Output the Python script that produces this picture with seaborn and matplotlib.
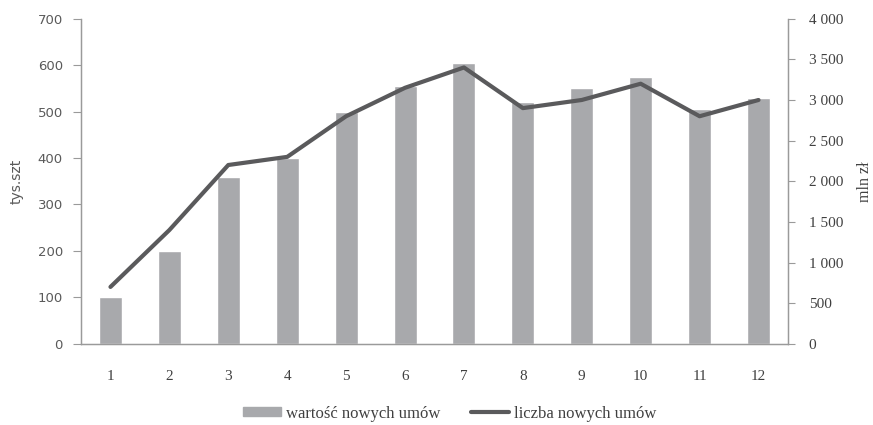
import matplotlib
matplotlib.use("Agg")
import matplotlib.pyplot as plt
import matplotlib.ticker as mticker
from matplotlib.patches import Rectangle
from matplotlib.lines import Line2D
import numpy as np
import pandas as pd
import seaborn as sns

# Monthly data
months = ["1", "2", "3", "4", "5", "6", "7", "8", "9", "10", "11", "12"]
contract_value = [100, 200, 360, 400, 500, 555, 605, 520, 550, 575, 505, 530]      # left axis
contract_count = [700, 1400, 2200, 2300, 2800, 3150, 3400, 2900, 3000, 3200, 2800, 3000]  # right axis

bar_label = "wartość nowych umów"
line_label = "liczba nowych umów"

df = pd.DataFrame({"month": months, "value": contract_value, "count": contract_count})
df["pos"] = np.arange(len(months))

sns.set_style("white")
serif = ["Liberation Serif", "DejaVu Serif"]
sans = ["DejaVu Sans"]

bar_color = "#a8a9ac"
line_color = "#5a5a5c"
axis_color = "#9a9a9a"
text_color = "#404040"
light_text = "#5a5a5a"

fig = plt.figure(figsize=(8.73, 4.25), dpi=100)
ax = fig.add_axes([0.0928, 0.191, 0.8098, 0.765])

sns.barplot(data=df, x="month", y="value", color=bar_color, width=0.39,
            saturation=1, ax=ax, zorder=2)
ax.set_ylim(0, 700)
ax.set_xlim(-0.5, len(months) - 0.5)
ax.set_yticks(np.arange(0, 701, 100))
ax.set_xlabel("")
ax.set_ylabel("tys.szt", family=sans, fontsize=10, color=light_text, labelpad=10)

ax2 = ax.twinx()
sns.lineplot(x=df["pos"], y=df["count"], color=line_color, linewidth=3,
             ax=ax2, zorder=3)
ax2.set_ylim(0, 4000)
ax2.set_yticks(np.arange(0, 4001, 500))
ax2.yaxis.set_major_formatter(mticker.FuncFormatter(
    lambda v, p: f"{int(v):,}".replace(",", " ")))
ax2.set_xlim(-0.5, len(months) - 0.5)
ax2.set_xlabel("")
ax2.set_ylabel("mln zł", family=serif, fontsize=11.5, color=text_color, labelpad=10)

for a in (ax, ax2):
    a.spines["top"].set_visible(False)
    for s in ("left", "right", "bottom"):
        a.spines[s].set_color(axis_color)
        a.spines[s].set_linewidth(0.9)
    a.grid(False)

# left axis ticks
ax.tick_params(axis="y", direction="out", length=6, width=0.8, color=axis_color,
               labelsize=9.5, labelcolor=light_text, pad=7)
for t in ax.get_yticklabels():
    t.set_family(sans)

# x axis: labels centred, tick marks at category boundaries
ax.tick_params(axis="x", which="major", length=0, labelsize=11, labelcolor=text_color, pad=19)
ax.set_xticks(np.arange(-0.5, len(months), 1.0), minor=True)
ax.tick_params(axis="x", which="minor", direction="out", length=5, width=0.8, color=axis_color)
for t in ax.get_xticklabels():
    t.set_family(serif)

# right axis ticks
ax2.tick_params(axis="y", direction="out", length=5, width=0.8, color=axis_color,
                labelsize=11, labelcolor=text_color, pad=10)
for t in ax2.get_yticklabels():
    t.set_family(serif)

handles = [Rectangle((0, 0), 1, 1, color=bar_color),
           Line2D([0], [0], color=line_color, linewidth=3)]
leg = fig.legend(handles, [bar_label, line_label], loc="center",
                 bbox_to_anchor=(0.515, 0.027), ncol=2, frameon=False,
                 prop={"family": serif, "size": 12}, handlelength=2.3,
                 handleheight=0.4, handletextpad=0.3, columnspacing=1.8)
for t in leg.get_texts():
    t.set_color(text_color)

fig.savefig("out.png", dpi=100, facecolor="white")
